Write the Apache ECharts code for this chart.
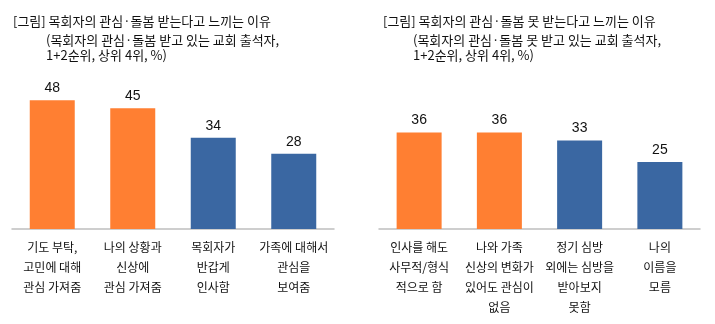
<!DOCTYPE html>
<html>
<head>
<meta charset="utf-8">
<script src="https://cdn.jsdelivr.net/npm/echarts@6/dist/echarts.min.js"></script>
<style>html,body{margin:0;padding:0;background:#fff}#c{width:715px;height:324px}</style>
</head>
<body>
<div id="c"></div>
<script>
const leftTitle = ['[그림] 목회자의 관심·돌봄 받는다고 느끼는 이유', '(목회자의 관심·돌봄 받고 있는 교회 출석자,', '1+2순위, 상위 4위, %)'];
const rightTitle = ['[그림] 목회자의 관심·돌봄 못 받는다고 느끼는 이유', '(목회자의 관심·돌봄 못 받고 있는 교회 출석자,', '1+2순위, 상위 4위, %)'];
const leftCategories = ['기도 부탁,\n고민에 대해\n관심 가져줌', '나의 상황과\n신상에\n관심 가져줌', '목회자가\n반갑게\n인사함', '가족에 대해서\n관심을\n보여줌'];
const leftValues = [48, 45, 34, 28];
const rightCategories = ['인사를 해도\n사무적/형식\n적으로 함', '나와 가족\n신상의 변화가\n있어도 관심이\n없음', '정기 심방\n외에는 심방을\n받아보지\n못함', '나의\n이름을\n모름'];
const rightValues = [36, 36, 33, 25];
const barColors = ['#FF7F32', '#FF7F32', '#3A67A2', '#3A67A2'];

const KFONT = '"Noto Sans CJK KR", "Noto Sans", sans-serif';
const chart = echarts.init(document.getElementById('c'), null, {renderer: 'canvas'});

function titleTexts(lines, x1, x2) {
  const ys = [21.5, 40, 55.5];
  return lines.map((t, i) => ({
    type: 'text', left: i === 0 ? x1 : x2, top: ys[i] - 9,
    style: {text: t, fontSize: 13, fontFamily: KFONT, fill: '#111', lineHeight: 18}
  }));
}

function mkSeries(values, idx) {
  return {
    type: 'bar', xAxisIndex: idx, yAxisIndex: idx, barWidth: 45,
    data: values.map((v, i) => ({value: v, itemStyle: {color: barColors[i]}})),
    label: {show: true, position: 'top', distance: 5, fontSize: 14, color: '#111', fontFamily: 'Liberation Sans, Arial, sans-serif'},
    silent: true
  };
}

function mkX(cats, idx) {
  return {
    type: 'category', gridIndex: idx, data: cats,
    axisTick: {show: false},
    axisLine: {lineStyle: {color: '#BFBFBF', width: 1.5}},
    axisLabel: {interval: 0, fontSize: 12, lineHeight: 20, margin: 8, color: '#111', fontFamily: KFONT}
  };
}

chart.setOption({
  animation: false,
  graphic: titleTexts(leftTitle, 13, 46).concat(titleTexts(rightTitle, 383, 413)),
  grid: [
    {left: 12, width: 322, top: 68, bottom: 95},
    {left: 379, width: 321, top: 68, bottom: 95}
  ],
  xAxis: [mkX(leftCategories, 0), mkX(rightCategories, 1)],
  yAxis: [
    {type: 'value', gridIndex: 0, min: 0, max: 60, show: false},
    {type: 'value', gridIndex: 1, min: 0, max: 60, show: false}
  ],
  series: [mkSeries(leftValues, 0), mkSeries(rightValues, 1)]
});
</script>
</body>
</html>
